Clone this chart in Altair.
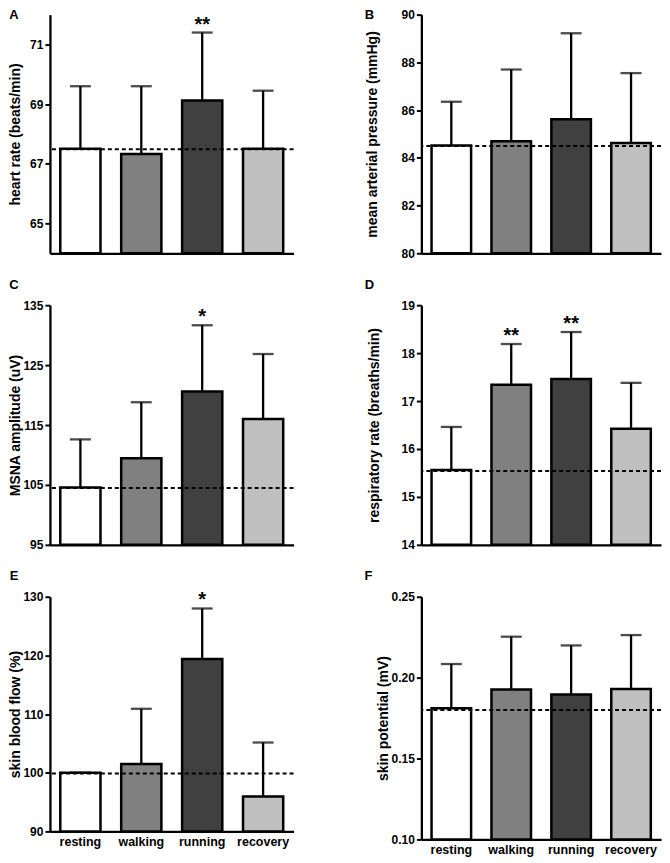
import altair as alt
import pandas as pd

FONT = "Liberation Sans"

categories = ["resting", "walking", "running", "recovery"]
bar_colors = ["#ffffff", "#808080", "#404040", "#c0c0c0"]

# A: heart rate
hr_mean = [67.50, 67.33, 69.12, 67.50]
hr_upper = [69.60, 69.60, 71.40, 69.45]
hr_base = 67.49
hr_stars = ["", "", "**", ""]

# B: mean arterial pressure
map_mean = [84.52, 84.69, 85.62, 84.62]
map_upper = [86.35, 87.70, 89.22, 87.55]
map_base = 84.50
map_stars = ["", "", "", ""]

# C: MSNA amplitude
msna_mean = [104.55, 109.45, 120.60, 116.00]
msna_upper = [112.60, 118.80, 131.65, 126.85]
msna_base = 104.50
msna_stars = ["", "", "*", ""]

# D: respiratory rate
rr_mean = [15.56, 17.34, 17.46, 16.42]
rr_upper = [16.46, 18.19, 18.44, 17.38]
rr_base = 15.54
rr_stars = ["", "**", "**", ""]

# E: skin blood flow
sbf_mean = [100.00, 101.50, 119.40, 95.96]
sbf_upper = [100.00, 110.90, 128.00, 105.15]
sbf_base = 99.85
sbf_stars = ["", "", "*", ""]

# F: skin potential
sp_mean = [0.1810, 0.1926, 0.1895, 0.1930]
sp_upper = [0.2084, 0.2253, 0.2199, 0.2263]
sp_base = 0.1800
sp_stars = ["", "", "", ""]


def make_panel(letter, title, mean, upper, baseline, stars, domain, ticks, fmt,
               w, h, show_x, title_x, letter_x, letter_y):
    df = pd.DataFrame({"condition": categories, "mean": mean, "upper": upper,
                       "stars": stars, "fill": bar_colors})
    xenc = alt.X(
        "condition:N", sort=categories,
        scale=alt.Scale(paddingInner=0.34, paddingOuter=0.17),
        axis=alt.Axis(title=None, labels=show_x, ticks=False, labelAngle=0,
                      labelFont=FONT, labelFontSize=12.5, labelFontWeight="bold",
                      labelColor="black", labelPadding=4, domainColor="black",
                      domainWidth=2.3),
    )
    yscale = alt.Scale(domain=domain, zero=False, nice=False)
    yaxis = alt.Axis(title=title, values=ticks, format=fmt, grid=False,
                     domainColor="black", domainWidth=2.3, tickColor="black",
                     tickWidth=2, tickSize=5, labelFont=FONT, labelFontSize=12,
                     labelFontWeight="bold", labelColor="black", labelPadding=2,
                     titleFont=FONT, titleFontSize=14, titleFontWeight="bold",
                     titleColor="black", titleX=title_x, titleBaseline="middle")

    def Y(field):
        return alt.Y(field, type="quantitative", scale=yscale, axis=yaxis)

    base = alt.Chart(df)
    bars = base.mark_bar(stroke="black", strokeWidth=2.5).encode(
        x=xenc, y=Y("mean"), y2=alt.datum(domain[0]),
        fill=alt.Fill("fill:N", scale=None))
    err = base.mark_rule(color="black", strokeWidth=2.3).encode(
        x=xenc, y=Y("mean"), y2="upper:Q")
    cap = base.mark_tick(color="black", thickness=2.3, size=21).encode(
        x=xenc, y=Y("upper"))
    dashed = alt.Chart(pd.DataFrame({"baseline": [baseline]})).mark_rule(
        color="black", strokeWidth=2, strokeDash=[4, 3]).encode(y=Y("baseline"))
    star_text = base.mark_text(font=FONT, fontSize=20, fontWeight="bold",
                               baseline="alphabetic", dy=-2, color="black").encode(
        x=xenc, y=Y("upper"), text="stars:N")
    lab = alt.Chart(pd.DataFrame({"letter": [letter]})).mark_text(
        font=FONT, fontSize=13, fontWeight="bold", align="center",
        baseline="middle", color="black").encode(
        x=alt.value(letter_x), y=alt.value(letter_y), text="letter:N")
    return alt.layer(bars, err, cap, dashed, star_text, lab).properties(
        width=w, height=h)


pA = make_panel("A", "heart rate (beats/min)", hr_mean, hr_upper, hr_base, hr_stars,
                [64, 72], [65, 67, 69, 71], "d", 244, 239, False, -34, -36, 0.5)
pB = make_panel("B", "mean arterial pressure (mmHg)", map_mean, map_upper, map_base,
                map_stars, [80, 90], [80, 82, 84, 86, 88, 90], "d", 240, 239, False,
                -49, -52, 0.5)
pC = make_panel("C", "MSNA amplitude (uV)", msna_mean, msna_upper, msna_base,
                msna_stars, [95, 135], [95, 105, 115, 125, 135], "d", 244, 240,
                False, -34.5, -36, -20)
pD = make_panel("D", "respiratory rate (breaths/min)", rr_mean, rr_upper, rr_base,
                rr_stars, [14, 19], [14, 15, 16, 17, 18, 19], "d", 240, 240, False,
                -47, -52, -20)
pE = make_panel("E", "skin blood flow (%)", sbf_mean, sbf_upper, sbf_base, sbf_stars,
                [90, 130], [90, 100, 110, 120, 130], "d", 244, 235, True, -34.5, -36,
                -21)
pF = make_panel("F", "skin potential (mV)", sp_mean, sp_upper, sp_base, sp_stars,
                [0.10, 0.25], [0.10, 0.15, 0.20, 0.25], ".2f", 240, 243, True, -38,
                -53, -21)

chart = alt.concat(pA, pB, pC, pD, pE, pF, columns=2,
                   spacing={"row": 52, "column": 128}, bounds="flush").properties(
    padding=0, background="white").configure_view(stroke=None)

chart.save("out.html", embed_options={"renderer": "svg", "actions": False})
